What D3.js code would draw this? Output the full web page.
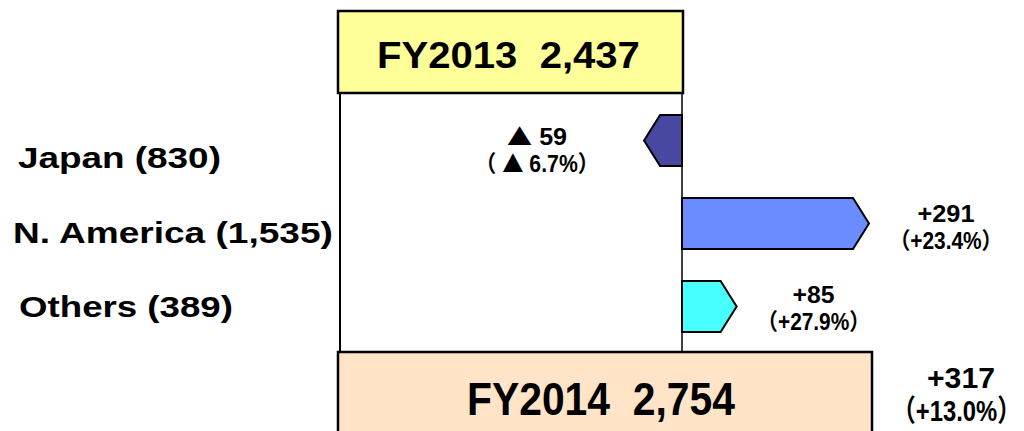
<!DOCTYPE html>
<html lang="en">
	<head>
		<meta charset="utf-8">
		<title>Sales by region FY2013 - FY2014</title>
		<script type="text/javascript" src="https://cdn.jsdelivr.net/npm/d3@7"></script>
		<style type="text/css">
			body { margin: 0; background: #fff; }
			text { font-family: "Liberation Sans", Arial, "Noto Sans CJK JP", sans-serif; font-weight: bold; fill: #000; }
			tspan.tri { font-family: "Noto Sans CJK JP", sans-serif; }
		</style>
	</head>
	<body>
		<script type="text/javascript">

			//Width and height
			var w = 1024;
			var h = 431;

			//Data
			var categories = ["Japan", "N. America", "Others"];
			var regionTotals = ["830", "1,535", "389"];
			var changes = [-59, 291, 85];
			var changeLabels = ["\u25B2 59", "+291", "+85"];
			var pctLabels = ["\uFF08 \u25B2 6.7%\uFF09", "\uFF08+23.4%\uFF09", "\uFF08+27.9%\uFF09"];
			var years = ["FY2013", "FY2014"];
			var totals = [2437, 2754];
			var totalLabels = ["2,437", "2,754"];
			var totalChange = "+317";
			var totalPct = "\uFF08+13.0%\uFF09";

			var barColors = ["#4848a0", "#6a8cff", "#48ffff"];

			//Scales
			var zeroX = 682;
			var xScale = d3.scaleLinear()
						.domain([0, 291])
						.range([zeroX, 869]);

			//box right edges follow the totals
			var boxScale = d3.scaleLinear()
						.domain([totals[0], totals[1]])
						.range([683, 872]);

			var yScale = d3.scaleBand()
						.domain(categories)
						.range([99, 348])
						.paddingInner(0.386)
						.paddingOuter(0.193);

			//label rows on the left (band centre = baseline)
			var labelScale = d3.scaleBand()
						.domain(categories)
						.range([131, 354]);

			var svg = d3.select("body")
						.append("svg")
						.attr("width", w)
						.attr("height", h);

			//squeeze / stretch a text so it spans a given width
			var fitText = function(t, left, baseline, width) {
				var len = t.node().getComputedTextLength();
				t.attr("transform", "translate(" + left + "," + baseline + ") scale(" + (width / len) + ",1)");
			};

			//put the triangle sign in its own tspan so it comes out large
			var setLabel = function(t, str) {
				var parts = str.split("\u25B2");
				parts.forEach(function(p, k) {
					if (k > 0) t.append("tspan").attr("class", "tri").text("\u25B2");
					if (p.length) t.append("tspan").text(p);
				});
			};

			var boxLeft = 338;

			//vertical guide lines
			svg.append("line")
				.attr("x1", 340).attr("x2", 340)
				.attr("y1", 92).attr("y2", 353)
				.attr("stroke", "#000")
				.attr("stroke-width", 2);

			svg.append("line")
				.attr("x1", zeroX).attr("x2", zeroX)
				.attr("y1", 92).attr("y2", 353)
				.attr("stroke", "#000")
				.attr("stroke-width", 1.5);

			//FY2013 box
			svg.append("rect")
				.attr("x", boxLeft)
				.attr("y", 11)
				.attr("width", boxScale(totals[0]) - boxLeft)
				.attr("height", 82)
				.attr("fill", "#ffff99")
				.attr("stroke", "#000")
				.attr("stroke-width", 2.5);

			var t13 = svg.append("text")
				.attr("font-size", "37px")
				.text(years[0] + "\u00A0\u00A0" + totalLabels[0]);
			fitText(t13, 377, 68, 263);

			//FY2014 box
			svg.append("rect")
				.attr("x", boxLeft)
				.attr("y", 352)
				.attr("width", boxScale(totals[1]) - boxLeft)
				.attr("height", 95)
				.attr("fill", "#ffe4c8")
				.attr("stroke", "#000")
				.attr("stroke-width", 2.5);

			var t14 = svg.append("text")
				.attr("font-size", "47px")
				.text(years[1] + "\u00A0\u00A0" + totalLabels[1]);
			fitText(t14, 467, 415, 268);

			//total change text
			var tc = svg.append("text")
				.attr("font-size", "30px")
				.text(totalChange);
			fitText(tc, 927, 388, 68);

			var tp = svg.append("text")
				.attr("font-size", "30px")
				.text(totalPct);
			fitText(tp, 892, 421, 129);

			//Arrow bars
			var tip = 16;
			var arrowPath = function(d, i) {
				var c = categories[i];
				var y0 = yScale(c);
				var y1 = y0 + yScale.bandwidth();
				var ym = (y0 + y1) / 2;
				var xe = xScale(d);
				var dir = d < 0 ? -1 : 1;
				var xb = xe - dir * tip;
				return "M" + zeroX + "," + y0 +
					"L" + xb + "," + y0 +
					"L" + xe + "," + ym +
					"L" + xb + "," + y1 +
					"L" + zeroX + "," + y1 + "Z";
			};

			svg.selectAll("path.bar")
				.data(changes)
				.enter()
				.append("path")
				.attr("class", "bar")
				.attr("d", arrowPath)
				.attr("fill", function(d, i) { return barColors[i]; })
				.attr("stroke", "#000")
				.attr("stroke-width", 2)
				.attr("stroke-linejoin", "miter");

			//change labels next to the arrow tips
			var labelX = function(d) {
				return d < 0 ? xScale(d) - 107 : xScale(d) + 77;
			};
			var rowShift = [5, -1, -3];
			var midY = function(i) {
				return yScale(categories[i]) + yScale.bandwidth() / 2 + rowShift[i];
			};
			var chgWidths = [60, 57, 42];
			var pctWidths = [124, 113, 113];

			svg.selectAll("text.chg")
				.data(changes)
				.enter()
				.append("text")
				.attr("class", "chg")
				.attr("font-size", "23px")
				.each(function(d, i) {
					var t = d3.select(this);
					setLabel(t, changeLabels[i]);
					fitText(t, labelX(d) - chgWidths[i] / 2, midY(i) - 1, chgWidths[i]);
				});

			svg.selectAll("text.pct")
				.data(changes)
				.enter()
				.append("text")
				.attr("class", "pct")
				.attr("font-size", "23px")
				.each(function(d, i) {
					var t = d3.select(this);
					setLabel(t, pctLabels[i]);
					fitText(t, labelX(d) - pctWidths[i] / 2, midY(i) + 26, pctWidths[i]);
				});

			//region labels on the left
			var labelWidths = [203, 320, 214];
			var labelLeft = [18, 13, 19];
			svg.selectAll("text.region")
				.data(categories)
				.enter()
				.append("text")
				.attr("class", "region")
				.attr("font-size", "30px")
				.text(function(d, i) { return d + " (" + regionTotals[i] + ")"; })
				.each(function(d, i) {
					fitText(d3.select(this), labelLeft[i], labelScale(d) + labelScale.bandwidth() / 2, labelWidths[i]);
				});

		</script>
	</body>
</html>
